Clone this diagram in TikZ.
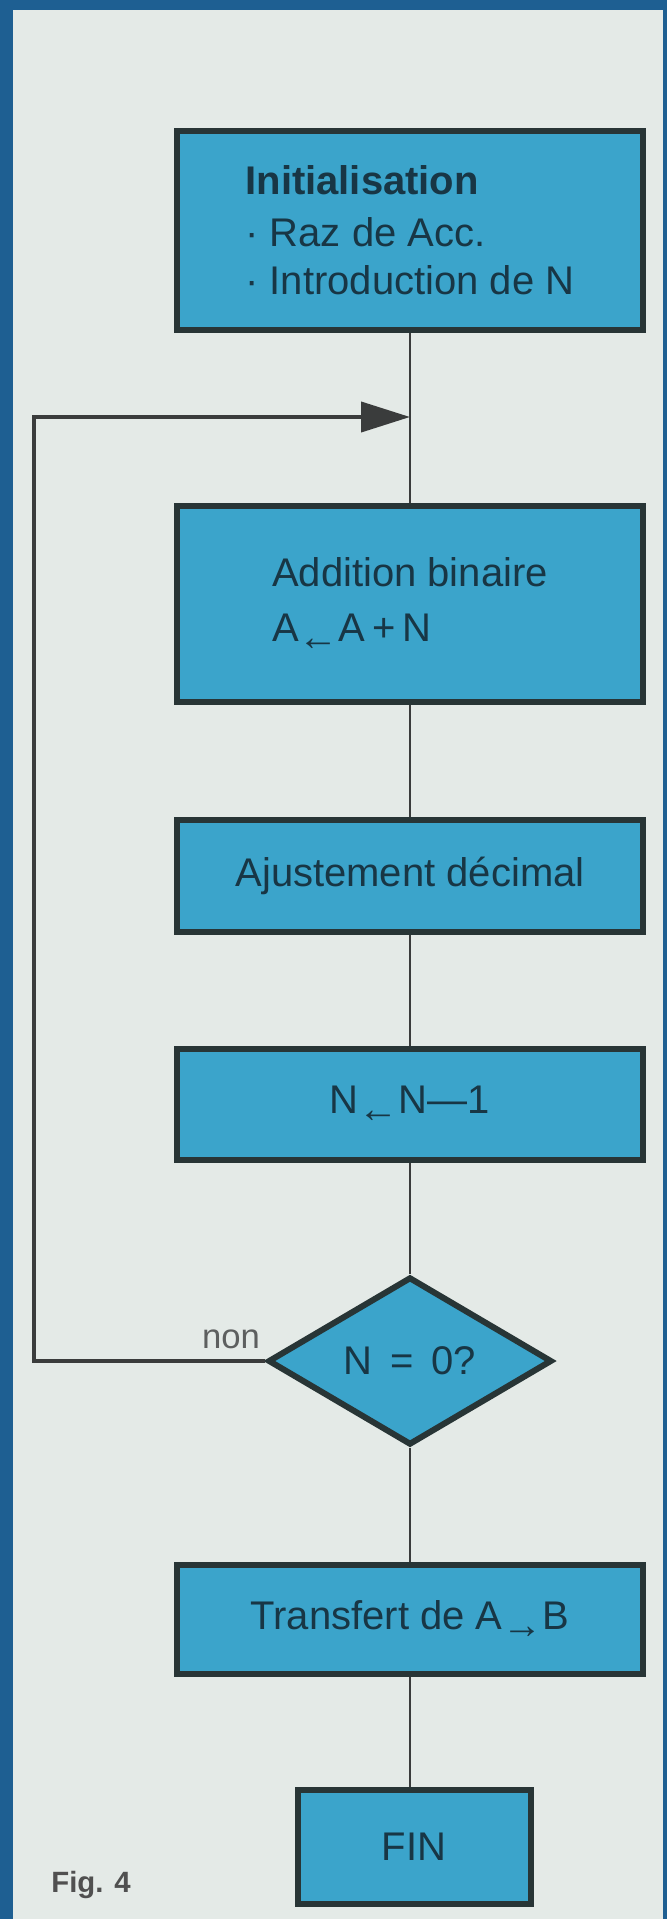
\documentclass[tikz,border=0pt]{standalone}
\usepackage{fontspec}
\setmainfont{Liberation Sans}
\usetikzlibrary{shapes.geometric,arrows.meta}

\definecolor{fondpage}{HTML}{E4EAE7}
\definecolor{bleucadre}{HTML}{1E5F92}
\definecolor{bleuboite}{HTML}{3BA4CB}
\definecolor{bordboite}{HTML}{283536}
\definecolor{encre}{HTML}{183645}
\definecolor{trait}{HTML}{3A3C3C}

\newcommand{\flecheG}{\raisebox{-0.22em}{←}}
\newcommand{\flecheD}{\raisebox{-0.22em}{→}}

\tikzset{
  boite/.style={draw=bordboite, line width=4.5pt, fill=bleuboite, text=encre, inner sep=0pt, font=\fontsize{30}{36}\selectfont},
  etape/.style={boite, minimum width=349pt},
  losange/.style={boite, diamond, shape aspect=1.69, minimum width=213pt, minimum height=126pt},
  liaison/.style={draw=trait, line width=1.9pt},
  boucle/.style={draw=trait, line width=3pt},
}

\begin{document}
\begin{tikzpicture}[x=0.75pt,y=0.75pt,yscale=-1,xscale=1]
        \useasboundingbox (0,0) rectangle (667,1919);
        %Shape: Background
        \fill [fondpage] (0,0) rectangle (667,1919);
        \fill [bleucadre] (0,0) rectangle (667,10);
        \fill [bleucadre] (0,0) rectangle (13,1919);
        \fill [bleucadre] (663,0) rectangle (667,1919);

        %Shape: Rectangle
        \node [etape, minimum height=149.25pt, align=left] (init) at (410,230.5) {\textbf{Initialisation}\\[3pt]· Raz de Acc.\\· Introduction de N};
        %Shape: Rectangle
        \node [etape, minimum height=147pt, align=left] (addition) at (410,604) {Addition binaire\\[5pt]A\flecheG A\,+\,N};
        %Shape: Rectangle
        \node [etape, minimum height=84pt] (ajust) at (410,876) {Ajustement décimal};
        %Shape: Rectangle
        \node [etape, minimum height=83.25pt] (decr) at (410,1104.5) {N\flecheG N—1};
        %Shape: Diamond
        \node [losange] (test) at (410,1361) {N \,=\, 0?};
        %Shape: Rectangle
        \node [etape, minimum height=81.75pt] (transf) at (410,1619.5) {Transfert de A\flecheD B};
        %Shape: Rectangle
        \node [boite, minimum width=174.75pt, minimum height=85.5pt] (fin) at (414,1847) {FIN};

        %Straight Lines
        \draw [liaison] (init.south) -- (addition.north);
        \draw [liaison] (addition.south) -- (ajust.north);
        \draw [liaison] (ajust.south) -- (decr.north);
        \draw [liaison] (decr.south) -- (test.north);
        \draw [liaison] (test.south) -- (transf.north);
        \draw [liaison] (transf.south) -- (transf.south |- fin.north);

        %Straight Lines (retour)
        \coordinate (coinbas) at (34,1361);
        \coordinate (coinhaut) at (34,417);
        \draw [boucle, -{Triangle[length=36.75pt,width=22.5pt]}] (test.west) -- (coinbas) -- (coinhaut) -- (coinhaut -| init.south);

        % Text Node
        \node [text={rgb,255:red,93;green,95;blue,95}, font=\fontsize{26}{30}\selectfont] (non) at (231,1339) {non};
        % Text Node
        \node [text={rgb,255:red,80;green,80;blue,80}, font=\bfseries\fontsize{22}{26}\selectfont] (fig) at (91,1885) {Fig. 4};
\end{tikzpicture}
\end{document}
